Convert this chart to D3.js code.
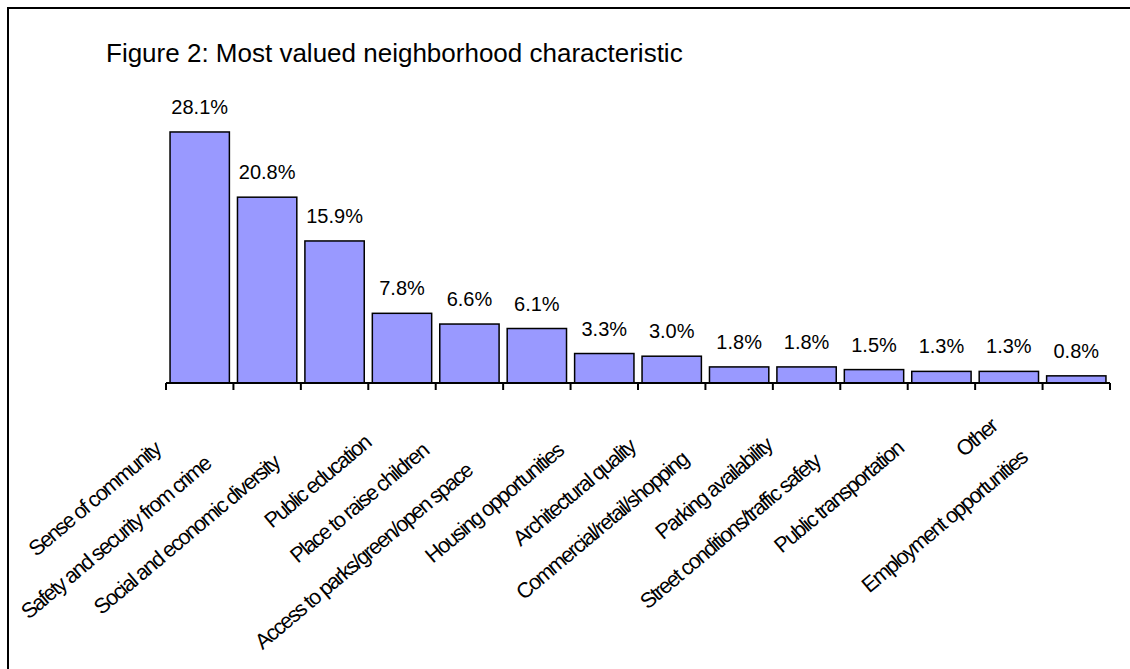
<!DOCTYPE html>
<html>
<head>
<meta charset="utf-8">
<script src="https://cdn.jsdelivr.net/npm/d3@7"></script>
<style>
  body { margin: 0; background: #fff; }
  svg { display: block; }
  text { font-family: "Liberation Sans", Arial, sans-serif; fill: #000; }
</style>
</head>
<body>
<div id="chart"></div>
<script>
// data
var categories = [
  'Sense of community',
  'Safety and security from crime',
  'Social and economic diversity',
  'Public education',
  'Place to raise children',
  'Access to parks/green/open space',
  'Housing opportunities',
  'Architectural quality',
  'Commercial/retail/shopping',
  'Parking availability',
  'Street conditions/traffic safety',
  'Public transportation',
  'Other',
  'Employment opportunities'
];
var values = [28.1, 20.8, 15.9, 7.8, 6.6, 6.1, 3.3, 3.0, 1.8, 1.8, 1.5, 1.3, 1.3, 0.8];
var valueLabels = ['28.1%', '20.8%', '15.9%', '7.8%', '6.6%', '6.1%', '3.3%', '3.0%', '1.8%', '1.8%', '1.5%', '1.3%', '1.3%', '0.8%'];
var title = 'Figure 2: Most valued neighborhood characteristic';

var W = 1130, H = 669;
var svg = d3.select('#chart').append('svg')
  .attr('width', W)
  .attr('height', H);

// frame (only top and left edges show in the crop)
svg.append('path')
  .attr('d', 'M8,669 L8,8 L1130,8')
  .attr('fill', 'none')
  .attr('stroke', '#000')
  .attr('stroke-width', 2);

svg.append('text')
  .attr('x', 106)
  .attr('y', 62)
  .style('font-size', '26px')
  .text(title);

var x = d3.scaleBand()
  .domain(categories)
  .range([166, 1110])
  .paddingInner(0.12)
  .paddingOuter(0.06);

var y = d3.scaleLinear()
  .domain([0, 30])
  .range([383, 115]);

var data = categories.map(function(c, i) {
  return {name: c, value: values[i], label: valueLabels[i]};
});

// bars
svg.append('g').selectAll('rect')
  .data(data)
  .enter().append('rect')
  .attr('x', function(d) { return x(d.name); })
  .attr('y', function(d) { return y(d.value); })
  .attr('width', x.bandwidth())
  .attr('height', function(d) { return y(0) - y(d.value); })
  .attr('fill', '#9999FF')
  .attr('stroke', '#000')
  .attr('stroke-width', 1.5);

// value labels
svg.append('g').selectAll('text')
  .data(data)
  .enter().append('text')
  .attr('x', function(d) { return x(d.name) + x.bandwidth() / 2; })
  .attr('y', function(d) { return y(d.value) - 18; })
  .attr('text-anchor', 'middle')
  .style('font-size', '20px')
  .text(function(d) { return d.label; });

// category axis: line plus ticks between categories
var r0 = x.range()[0], step = x.step();
svg.append('line')
  .attr('x1', r0).attr('x2', x.range()[1])
  .attr('y1', y(0)).attr('y2', y(0))
  .attr('stroke', '#000')
  .attr('stroke-width', 2);

svg.append('g').selectAll('line')
  .data(d3.range(categories.length + 1))
  .enter().append('line')
  .attr('x1', function(i) { return r0 + i * step; })
  .attr('x2', function(i) { return r0 + i * step; })
  .attr('y1', y(0))
  .attr('y2', y(0) + 7)
  .attr('stroke', '#000')
  .attr('stroke-width', 2);

// rotated category labels (condensed, like the original)
var ang = 40, rad = ang * Math.PI / 180;
svg.append('g').selectAll('text')
  .data(data)
  .enter().append('text')
  .attr('text-anchor', 'end')
  .style('font-size', '21.5px')
  .style('letter-spacing', '-1.7px')
  .text(function(d) { return d.name; })
  .each(function(d) {
    var L = this.getComputedTextLength();
    var cx = x(d.name) + x.bandwidth() / 2;
    var ex = cx - 0.3 * L * Math.cos(rad);
    var ey = 420 + 0.3 * L * Math.sin(rad);
    d3.select(this).attr('transform', 'translate(' + ex + ',' + ey + ') rotate(' + (-ang) + ')');
  });
</script>
</body>
</html>
